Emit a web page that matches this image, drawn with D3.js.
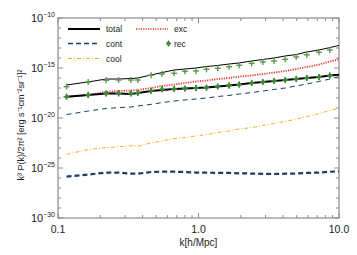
<!DOCTYPE html>
<html>
<head>
<meta charset="utf-8">
<script src="https://cdn.jsdelivr.net/npm/d3@7"></script>
<style>
  body { margin: 0; background: #fff; }
  text { font-family: "Liberation Sans", Arial, sans-serif; fill: #222; }
</style>
</head>
<body>
<svg width="357" height="255"></svg>
<script>
const width = 357;
const height = 255;
const margin = {top: 18, right: 18, bottom: 37, left: 58};

// k grid [h/Mpc]
const kLine = [0.115, 0.164, 0.22, 0.27, 0.33, 0.37, 0.46, 0.55, 0.67, 0.80, 0.96, 1.14,
               1.37, 1.65, 1.95, 2.39, 2.87, 3.45, 4.14, 4.96, 5.9, 7.2, 8.6, 10.0];
const kMark = kLine.slice(0, 23);

const totalUpper = [2.0e-17, 4.0e-17, 7.9e-17, 7.9e-17, 8.9e-17, 1.0e-16, 2.0e-16, 3.5e-16,
                    6.3e-16, 7.9e-16, 1.0e-15, 1.4e-15, 1.8e-15, 2.5e-15, 3.2e-15, 5.0e-15,
                    7.1e-15, 1.0e-14, 1.6e-14, 2.2e-14, 4.0e-14, 6.3e-14, 1.1e-13, 1.8e-13];
const recUpper = [1.35e-17, 4.0e-17, 5.9e-17, 6.3e-17, 6.3e-17, 6.3e-17, 1.9e-16, 2.5e-16,
                  2.95e-16, 4.7e-16, 5.0e-16, 7.4e-16, 9.3e-16, 1.35e-15, 1.86e-15, 2.95e-15,
                  4.0e-15, 5.0e-15, 7.4e-15, 1.26e-14, 2.1e-14, 3.7e-14, 6.3e-14];
const total = [1.35e-18, 2.0e-18, 2.8e-18, 2.8e-18, 2.5e-18, 3.2e-18, 5.0e-18, 6.3e-18,
               7.9e-18, 8.9e-18, 1.0e-17, 1.1e-17, 1.4e-17, 1.8e-17, 2.2e-17, 3.2e-17,
               4.0e-17, 5.0e-17, 6.3e-17, 7.9e-17, 1.0e-16, 1.26e-16, 1.8e-16, 2.1e-16];
const rec = [1.35e-18, 2.0e-18, 2.9e-18, 2.9e-18, 2.9e-18, 3.2e-18, 5.4e-18, 7.4e-18,
             7.9e-18, 8.9e-18, 1.0e-17, 1.1e-17, 1.4e-17, 1.8e-17, 2.2e-17, 3.2e-17,
             4.0e-17, 5.0e-17, 6.3e-17, 7.9e-17, 1.0e-16, 1.26e-16, 1.8e-16];
const exc = [1.26e-18, 2.0e-18, 4.0e-18, 5.0e-18, 5.6e-18, 6.3e-18, 1.0e-17, 1.6e-17,
             2.2e-17, 3.2e-17, 4.5e-17, 5.6e-17, 7.9e-17, 1.0e-16, 1.4e-16, 1.8e-16,
             2.5e-16, 3.5e-16, 5.0e-16, 7.9e-16, 1.26e-15, 2.2e-15, 4.5e-15, 7.4e-15];
const contUpper = [2.2e-20, 5.0e-20, 8.9e-20, 1.1e-19, 1.26e-19, 1.6e-19, 2.3e-19, 3.5e-19,
                   5.0e-19, 6.3e-19, 7.9e-19, 1.0e-18, 1.4e-18, 1.8e-18, 2.5e-18, 3.5e-18,
                   5.0e-18, 7.1e-18, 1.0e-17, 1.6e-17, 2.5e-17, 4.5e-17, 7.9e-17, 1.35e-16];
const cool = [2.3e-24, 7.1e-24, 1.1e-23, 1.3e-23, 1.7e-23, 1.5e-23, 3.2e-23, 5.0e-23,
              8.9e-23, 1.1e-22, 1.6e-22, 2.2e-22, 3.5e-22, 5.0e-22, 7.9e-22, 1.1e-21,
              1.8e-21, 2.8e-21, 4.5e-21, 7.9e-21, 1.4e-20, 2.8e-20, 5.6e-20, 9.3e-20];
const cont = [1.35e-26, 2.2e-26, 3.5e-26, 3.4e-26, 2.8e-26, 2.7e-26, 4.0e-26, 4.3e-26,
              4.3e-26, 4.0e-26, 3.5e-26, 3.4e-26, 3.3e-26, 3.2e-26, 2.95e-26, 2.8e-26,
              2.6e-26, 2.5e-26, 2.7e-26, 2.8e-26, 3.2e-26, 3.5e-26, 4.2e-26, 4.7e-26];

const xTicks = [0.1, 1, 10];
const xTickLabels = ["0.1", "1.0", "10.0"];
const yTickExp = [-10, -15, -20, -25, -30];

const navy = "#1f3b66";
const red = "#e8362f";
const orange = "#f2b01e";
const green = "#3f8a3a";
const axisGray = "#8c8c8c";

const svg = d3.select("svg");

const x = d3.scaleLog().domain([0.1, 10]).range([margin.left, width - margin.right]);
const y = d3.scaleLog().domain([1e-30, 1e-10]).range([height - margin.bottom, margin.top]);

// minor / major ticks pointing inward on all four sides
const xMinor = [];
for (let d = 0.1; d < 10; d *= 10) for (let m = 2; m <= 9; m++) xMinor.push(d * m);
const yMinor = d3.range(-29, -10).filter(e => e % 5 !== 0).map(e => Math.pow(10, e));

const frame = svg.append("g");
frame.append("rect")
  .attr("x", margin.left).attr("y", margin.top)
  .attr("width", width - margin.left - margin.right)
  .attr("height", height - margin.top - margin.bottom)
  .attr("fill", "none").attr("stroke", axisGray).attr("stroke-width", 1.2);

function tickLines(vals, len, horizontal) {
  vals.forEach(v => {
    if (horizontal) {
      const px = x(v);
      frame.append("line").attr("x1", px).attr("x2", px)
        .attr("y1", y.range()[0]).attr("y2", y.range()[0] - len)
        .attr("stroke", axisGray);
      frame.append("line").attr("x1", px).attr("x2", px)
        .attr("y1", y.range()[1]).attr("y2", y.range()[1] + len)
        .attr("stroke", axisGray);
    } else {
      const py = y(v);
      frame.append("line").attr("y1", py).attr("y2", py)
        .attr("x1", x.range()[0]).attr("x2", x.range()[0] + len)
        .attr("stroke", axisGray);
      frame.append("line").attr("y1", py).attr("y2", py)
        .attr("x1", x.range()[1]).attr("x2", x.range()[1] - len)
        .attr("stroke", axisGray);
    }
  });
}
tickLines(xMinor, 3, true);
tickLines(xTicks, 5, true);
tickLines(yMinor, 3, false);
tickLines(yTickExp.map(e => Math.pow(10, e)), 5, false);

// tick labels
svg.selectAll(".xlab").data(xTicks).enter().append("text")
  .attr("x", d => x(d)).attr("y", height - margin.bottom + 15)
  .attr("text-anchor", "middle").style("font-size", "10.5px")
  .text((d, i) => xTickLabels[i]);

const yl = svg.selectAll(".ylab").data(yTickExp).enter().append("text")
  .attr("x", margin.left - 3).attr("y", d => y(Math.pow(10, d)) + 4)
  .attr("text-anchor", "end").style("font-size", "11px");
yl.append("tspan").text("10");
yl.append("tspan").attr("dy", -5).style("font-size", "7px").text(d => "\u2212" + (-d));

svg.append("text")
  .attr("x", (x.range()[0] + x.range()[1]) / 2).attr("y", height - 9)
  .attr("text-anchor", "middle").style("font-size", "10px")
  .text("k[h/Mpc]");

svg.append("text")
  .attr("transform", "translate(24, 125) rotate(-90)")
  .attr("text-anchor", "middle").style("font-size", "9px")
  .text("k\u00B3 P(k)/2\u03C0\u00B2 [erg s\u207B\u00B9cm\u207B\u00B2sr\u207B\u00B9]\u00B2");

// series
const line = d3.line().x(d => x(d[0])).y(d => y(d[1]));
function drawLine(vals, color, w, dash) {
  svg.append("path")
    .datum(kLine.map((k, i) => [k, vals[i]]))
    .attr("d", line).attr("fill", "none")
    .attr("stroke", color).attr("stroke-width", w)
    .attr("stroke-dasharray", dash);
}
drawLine(cont, navy, 2.2, "5,3");
drawLine(cool, orange, 1, "4,2,1,2");
drawLine(contUpper, navy, 1, "5,4");
drawLine(exc, red, 1.8, "1.2,1.2");
drawLine(total, "#000", 2, null);
drawLine(totalUpper, "#000", 1, null);

function drawPlus(g, cx, cy, color, s) {
  g.append("line").attr("x1", cx - s).attr("x2", cx + s).attr("y1", cy).attr("y2", cy)
    .attr("stroke", color).attr("stroke-width", 1.4);
  g.append("line").attr("x1", cx).attr("x2", cx).attr("y1", cy - s).attr("y2", cy + s)
    .attr("stroke", color).attr("stroke-width", 1.4);
}
const marks = svg.append("g");
kMark.forEach((k, i) => drawPlus(marks, x(k), y(recUpper[i]), "#5d9a50", 3));
kMark.forEach((k, i) => {
  marks.append("path")
    .attr("d", d3.symbol(d3.symbolDiamond, 14)())
    .attr("transform", `translate(${x(k)},${y(rec[i])})`)
    .attr("fill", green);
  drawPlus(marks, x(k), y(rec[i]), green, 3);
});

// legend
const legend = svg.append("g").style("font-size", "8.5px");
const legendItems = [
  {name: "total", col: 0, row: 0, color: "#000", w: 2, dash: null},
  {name: "cont", col: 0, row: 1, color: navy, w: 1.6, dash: "5,3"},
  {name: "cool", col: 0, row: 2, color: orange, w: 1, dash: "4,2,1,2"},
  {name: "exc", col: 1, row: 0, color: red, w: 1.6, dash: "1.2,1.2"}
];
const legX = [68, 136], legY = [29, 43.5, 58.5];
legendItems.forEach(d => {
  const x0 = legX[d.col], y0 = legY[d.row];
  legend.append("line").attr("x1", x0).attr("x2", x0 + 32).attr("y1", y0).attr("y2", y0)
    .attr("stroke", d.color).attr("stroke-width", d.w).attr("stroke-dasharray", d.dash);
  legend.append("text").attr("x", x0 + 38).attr("y", y0 + 3).text(d.name);
});
legend.append("path").attr("d", d3.symbol(d3.symbolDiamond, 14)())
  .attr("transform", `translate(168.5,${legY[1]})`).attr("fill", green);
drawPlus(legend, 168.5, legY[1], green, 2.5);
legend.append("text").attr("x", 174).attr("y", legY[1] + 3).text("rec");
</script>
</body>
</html>
